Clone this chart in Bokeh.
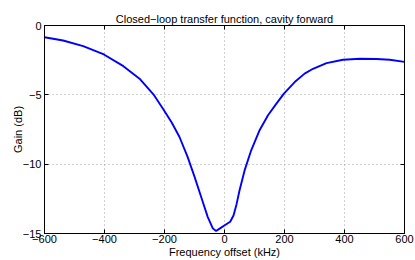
from bokeh.plotting import figure
from bokeh.models import LinearAxis, FixedTicker, Range1d
from bokeh.embed import file_html
from bokeh.resources import INLINE

# Data
freq_khz = [-600, -538, -471, -402, -337, -281, -237, -204, -176, -150, -123, -100,
            -78, -56, -39, -28, -15, 2, 19, 30, 40, 50, 67, 89, 117, 145, 173, 198,
            234, 267, 295, 340, 395, 451, 507, 551, 600]
gain_db = [-0.85, -1.08, -1.49, -2.09, -2.93, -3.88, -4.96, -6.04, -7.0, -8.04, -9.47, -10.9,
           -12.35, -13.8, -14.63, -14.82, -14.63, -14.39, -14.15, -13.7, -12.9, -11.9, -10.45,
           -9.0, -7.55, -6.47, -5.63, -4.91, -4.08, -3.47, -3.12, -2.71, -2.47, -2.4, -2.42,
           -2.47, -2.62]

x_ticks = [-600, -400, -200, 0, 200, 400, 600]
x_tick_labels = ["\u2212600", "\u2212400", "\u2212200", "0", "200", "400", "600"]
y_ticks = [-15, -10, -5, 0]
y_tick_labels = ["\u221215", "\u221210", "\u22125", "0"]

title_text = "Closed\u2212loop transfer function, cavity forward"
x_label = "Frequency offset (kHz)"
y_label = "Gain (dB)"

FONT = "Liberation Sans"

p = figure(width=415, height=260, output_backend="svg", toolbar_location=None,
           x_range=Range1d(-600, 600), y_range=Range1d(-15, 0),
           min_border_left=44, min_border_right=11, min_border_top=25, min_border_bottom=26)

p.title.text = title_text
p.title.align = "center"
p.title.text_font = FONT
p.title.text_font_size = "11px"
p.title.text_font_style = "normal"
p.title.text_color = "black"
p.title.standoff = 2

p.line(freq_khz, gain_db, line_color="#0000ff", line_width=1.9)

p.outline_line_color = "black"
p.outline_line_width = 1

def style_axis(ax, ticks, labels, show_labels=True):
    ax.ticker = FixedTicker(ticks=ticks)
    if show_labels:
        ax.major_label_overrides = {t: l for t, l in zip(ticks, labels)}
    else:
        ax.major_label_overrides = {t: "" for t in ticks}
    ax.major_tick_in = 4
    ax.major_tick_out = 0
    ax.minor_tick_line_color = None
    ax.axis_line_color = "black"
    ax.major_tick_line_color = "black"
    ax.major_label_text_font = FONT
    ax.major_label_text_font_size = "11px"
    ax.major_label_text_color = "black"
    ax.axis_label_text_font = FONT
    ax.axis_label_text_font_size = "11px"
    ax.axis_label_text_font_style = "normal"
    ax.axis_label_text_color = "black"

xa = p.xaxis[0]
ya = p.yaxis[0]
style_axis(xa, x_ticks, x_tick_labels)
style_axis(ya, y_ticks, y_tick_labels)
xa.axis_label = x_label
ya.axis_label = y_label
xa.major_label_standoff = 1
xa.axis_label_standoff = 0
ya.major_label_standoff = 3
ya.axis_label_standoff = -4

top = LinearAxis()
style_axis(top, x_ticks, x_tick_labels, show_labels=False)
top.major_label_standoff = 0
p.add_layout(top, "above")
right = LinearAxis()
style_axis(right, y_ticks, y_tick_labels, show_labels=False)
right.major_label_standoff = 0
p.add_layout(right, "right")

for g, t in ((p.xgrid[0], x_ticks), (p.ygrid[0], y_ticks)):
    g.ticker = FixedTicker(ticks=t)
    g.grid_line_color = "#a0a0a0"
    g.grid_line_dash = "1 3"
    g.grid_line_width = 1

p.background_fill_color = "white"
p.border_fill_color = "white"

open("out.html", "w").write(file_html(p, INLINE))
